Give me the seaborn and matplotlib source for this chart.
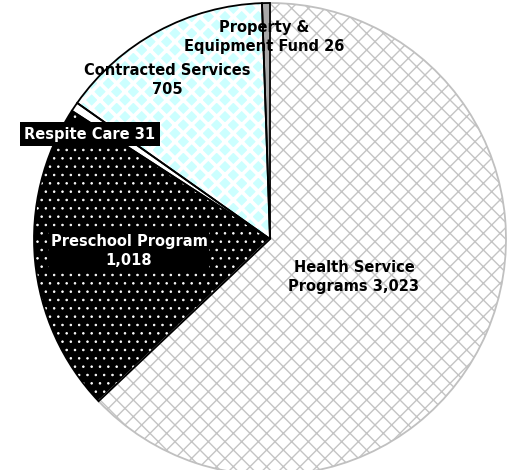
import matplotlib
matplotlib.use("Agg")
import matplotlib.pyplot as plt
import seaborn as sns

# ----------------------------------------------------------
# Data
# ----------------------------------------------------------

CATEGORIES = [
    "Health Service\nPrograms",
    "Preschool Program",
    "Respite Care",
    "Contracted Services",
    "Property &\nEquipment Fund",
]

VALUES = [3023, 1018, 31, 705, 26]

LABELS = [
    "Health Service\nPrograms 3,023",
    "Preschool Program\n1,018",
    "Respite Care 31",
    "Contracted Services\n705",
    "Property &\nEquipment Fund 26",
]

# ----------------------------------------------------------
# Styling
# ----------------------------------------------------------

FACES = ["#ffffff", "#000000", "#ffffff", "#ccffff", "#a8a8a8"]
HATCHES = ["xx", "..", "", "xx", ""]
HATCH_COLORS = ["#c4c4c4", "#ffffff", "#000000", "#ffffff", "#000000"]
HATCH_WIDTHS = [1.0, 0.6, 1.0, 2.6, 1.0]
OUTLINES = ["#c0c0c0", "#000000", "#000000", "#000000", "#000000"]

# label anchor positions (pixels, top-left origin), colours, backgrounds
LABEL_POS = [(354, 277), (129, 251), (90, 134), (167, 80), (264, 37)]
LABEL_COLORS = ["black", "white", "white", "black", "black"]
LABEL_BOXES = [None, "black", "black", None, None]
LABEL_PADS = [0, 1.5, 3.0, 0, 0]

sns.set_theme(style="white")
plt.rcParams["font.family"] = ["DejaVu Sans"]

fig = plt.figure(figsize=(5.11, 4.70), dpi=100)
ax = fig.add_axes([0, 0, 1, 1])

center = (270, 470 - 239)
radius = 236

# filled + hatched wedges
wedges, _ = ax.pie(
    VALUES,
    startangle=90,
    counterclock=False,
    center=center,
    radius=radius,
    frame=True,
)
for w, fc, h, hc, hw in zip(wedges, FACES, HATCHES, HATCH_COLORS, HATCH_WIDTHS):
    w.set_facecolor(fc)
    w.set_hatch(h)
    w.set_edgecolor(hc)
    w.set_linewidth(0)
    if hasattr(w, "set_hatch_linewidth"):
        w.set_hatch_linewidth(hw)

# outlines on top
outlines, _ = ax.pie(
    VALUES,
    startangle=90,
    counterclock=False,
    center=center,
    radius=radius,
    frame=True,
)
for w, ec in zip(outlines, OUTLINES):
    w.set_facecolor("none")
    w.set_edgecolor(ec)
    w.set_linewidth(1.3)

ax.set_xlim(0, 511)
ax.set_ylim(0, 470)
ax.set_aspect("equal")
ax.axis("off")

for text, (px, py), color, bg, pad in zip(
    LABELS, LABEL_POS, LABEL_COLORS, LABEL_BOXES, LABEL_PADS
):
    box = None
    if bg is not None:
        box = dict(facecolor=bg, edgecolor="none", pad=pad)
    ax.text(
        px,
        470 - py,
        text,
        ha="center",
        va="center",
        color=color,
        fontsize=10.5,
        fontweight="bold",
        linespacing=1.4,
        bbox=box,
    )

fig.savefig("out.png", dpi=100)
